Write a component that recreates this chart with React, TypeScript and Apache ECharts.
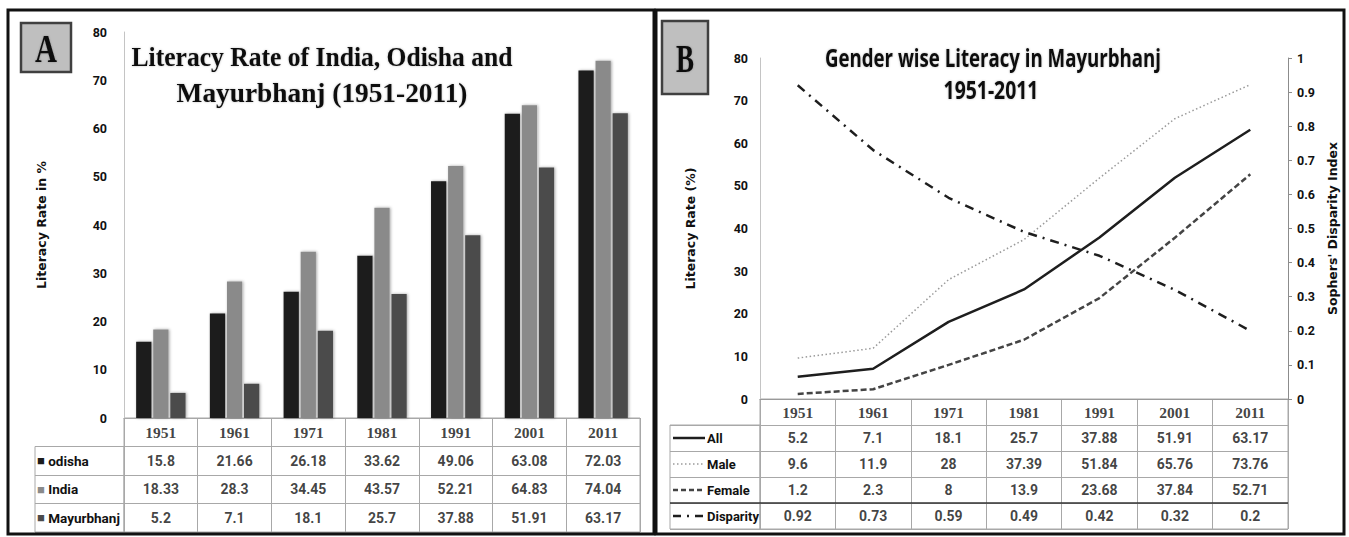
import React, { useEffect, useRef } from "react";
import * as echarts from "echarts";

// ---------- data ----------
const years = ["1951", "1961", "1971", "1981", "1991", "2001", "2011"];
const odisha = [15.8, 21.66, 26.18, 33.62, 49.06, 63.08, 72.03];
const india = [18.33, 28.3, 34.45, 43.57, 52.21, 64.83, 74.04];
const mayurbhanj = [5.2, 7.1, 18.1, 25.7, 37.88, 51.91, 63.17];
const namesA = ["odisha", "India", "Mayurbhanj"];
const colorsA = ["#1c1c1c", "#8a8a8a", "#4b4b4b"];

const allRate = [5.2, 7.1, 18.1, 25.7, 37.88, 51.91, 63.17];
const maleRate = [9.6, 11.9, 28, 37.39, 51.84, 65.76, 73.76];
const femaleRate = [1.2, 2.3, 8, 13.9, 23.68, 37.84, 52.71];
const disparity = [0.92, 0.73, 0.59, 0.49, 0.42, 0.32, 0.2];
const namesB = ["All", "Male", "Female", "Disparity"];

const titleA = ["Literacy Rate of India, Odisha and", "Mayurbhanj (1951-2011)"];
const titleB = ["Gender wise Literacy in Mayurbhanj", "1951-2011"];

// ---------- layout ----------
const LA = { plotL: 124, plotR: 640, plotT: 32, plotB: 418, tableB: 532, legL: 35 };
const LB = { plotL: 760, plotR: 1288, plotT: 58, plotB: 399, tableB: 529, legL: 670 };
const rowHA = (LA.tableB - LA.plotB) / 4;
const rowHB = (LB.tableB - LB.plotB) / 5;

const FONT_NUM = "'Roboto', sans-serif";
const FONT_SERIF = "'Liberation Serif', serif";
const FONT_NAME = "'DejaVu Sans', sans-serif";
const GRID_LINE = "#a8a8a8";

function fitScale(text: string, font: string, target: number) {
  const c = document.createElement("canvas").getContext("2d");
  if (!c) return 1;
  c.font = font;
  const w = c.measureText(text).width;
  return w > 0 ? target / w : 1;
}

function titleText(text: string, x: number, y: number, font: string, target: number) {
  return {
    type: "text",
    x,
    y,
    scaleX: fitScale(text, font, target),
    z: 100,
    style: {
      text,
      font,
      fill: "#111",
      align: "center",
      textAlign: "center",
      verticalAlign: "middle",
      textVerticalAlign: "middle",
      textShadowColor: "rgba(0,0,0,0.25)",
      textShadowBlur: 2,
    },
  };
}

function cellSeries(
  xIdx: number,
  yIdx: number,
  rows: (number | string)[][],
  rowOffset: number,
  font: { family: string; size: number }
) {
  const data: (number | string)[][] = [];
  rows.forEach((row, r) =>
    row.forEach((v, c) => data.push([c, r + rowOffset, String(v)]))
  );
  return {
    type: "scatter",
    xAxisIndex: xIdx,
    yAxisIndex: yIdx,
    data,
    symbolSize: 1,
    itemStyle: { color: "rgba(0,0,0,0)" },
    silent: true,
    label: {
      show: true,
      position: "inside",
      formatter: (p: any) => p.value[2],
      fontFamily: font.family,
      fontSize: font.size,
      fontWeight: "bold",
      color: "#111",
    },
  };
}

const hiddenCat = (gridIndex: number, data: string[], extra: any = {}) => ({
  type: "category",
  gridIndex,
  data,
  axisLine: { show: false },
  axisTick: { show: false },
  axisLabel: { show: false },
  splitLine: { show: true, interval: 0, lineStyle: { color: GRID_LINE, width: 1 } },
  ...extra,
});

function buildOption() {
  const axisLabelStyle = { fontFamily: FONT_NUM, fontWeight: "bold", fontSize: 12.5, color: "#111" };
  const nameStyle = { fontFamily: FONT_NAME, fontWeight: "bold", fontSize: 12.5, color: "#111" };

  const richA: any = { t: { fontFamily: FONT_NUM, fontWeight: "bold", fontSize: 13.5, color: "#111" } };
  colorsA.forEach((c, i) => (richA["s" + i] = { color: c, fontSize: 13 }));

  const titleFontA = `bold 27px ${FONT_SERIF}`;
  const titleFontB = `bold 25px 'Open Sans', sans-serif`;
  const letterFont = `bold 40px ${FONT_SERIF}`;

  const legendStyles = [
    { stroke: "#1e1e1e", lineWidth: 2.5 },
    { stroke: "#9a9a9a", lineWidth: 1.5, lineDash: [1.5, 2.5] },
    { stroke: "#444", lineWidth: 2.5, lineDash: [5, 3] },
    { stroke: "#1e1e1e", lineWidth: 2.5, lineDash: [8, 6, 2, 6] },
  ];

  const graphic: any[] = [
    { type: "rect", shape: { x: 8, y: 10, width: 646, height: 524 }, style: { fill: "none", stroke: "#111", lineWidth: 3 }, z: 100 },
    { type: "rect", shape: { x: 656, y: 10, width: 688, height: 524 }, style: { fill: "none", stroke: "#111", lineWidth: 3 }, z: 100 },
    { type: "rect", shape: { x: 21, y: 23, width: 50, height: 49 }, style: { fill: "#bfbfbf", stroke: "#404040", lineWidth: 2.5 }, z: 100 },
    { type: "rect", shape: { x: 662, y: 21, width: 46, height: 73 }, style: { fill: "#bfbfbf", stroke: "#404040", lineWidth: 2.5 }, z: 100 },
    titleText("A", 46, 49, letterFont, 22),
    titleText("B", 685, 59, letterFont, 18),
    titleText(titleA[0], 322, 57, titleFontA, 381),
    titleText(titleA[1], 322, 93, titleFontA, 291),
    titleText(titleB[0], 993, 57, titleFontB, 336),
    titleText(titleB[1], 991, 90, titleFontB, 95),
    {
      type: "line",
      shape: { x1: LB.legL, y1: LB.plotB + rowHB * 4, x2: LB.plotR, y2: LB.plotB + rowHB * 4 },
      style: { stroke: "#333", lineWidth: 1.5 },
      z: 90,
    },
  ];
  legendStyles.forEach((st, i) => {
    const y = LB.plotB + rowHB * (i + 1.5);
    graphic.push({
      type: "line",
      shape: { x1: LB.legL + 3, y1: y, x2: LB.legL + 35, y2: y },
      style: st,
      z: 90,
    });
  });

  return {
    animation: false,
    backgroundColor: "#fff",
    grid: [
      { left: LA.plotL, top: LA.plotT, width: LA.plotR - LA.plotL, height: LA.plotB - LA.plotT },
      { left: LA.plotL, top: LA.plotB, width: LA.plotR - LA.plotL, height: LA.tableB - LA.plotB, show: true, borderColor: GRID_LINE, borderWidth: 1 },
      { left: LA.legL, top: LA.plotB + rowHA, width: LA.plotL - LA.legL, height: LA.tableB - LA.plotB - rowHA, show: true, borderColor: GRID_LINE, borderWidth: 1 },
      { left: LB.plotL, top: LB.plotT, width: LB.plotR - LB.plotL, height: LB.plotB - LB.plotT },
      { left: LB.plotL, top: LB.plotB, width: LB.plotR - LB.plotL, height: LB.tableB - LB.plotB, show: true, borderColor: GRID_LINE, borderWidth: 1 },
      { left: LB.legL, top: LB.plotB + rowHB, width: LB.plotL - LB.legL, height: LB.tableB - LB.plotB - rowHB, show: true, borderColor: GRID_LINE, borderWidth: 1 },
    ],
    xAxis: [
      { type: "category", gridIndex: 0, data: years, axisLine: { lineStyle: { color: GRID_LINE } }, axisTick: { show: false }, axisLabel: { show: false } },
      hiddenCat(1, years),
      { type: "value", gridIndex: 2, show: false },
      { type: "category", gridIndex: 3, data: years, axisLine: { lineStyle: { color: "#999" } }, axisTick: { show: false }, axisLabel: { show: false } },
      hiddenCat(4, years),
      { type: "value", gridIndex: 5, show: false },
    ],
    yAxis: [
      {
        type: "value", gridIndex: 0, min: 0, max: 80, interval: 10,
        axisLine: { show: true, lineStyle: { color: "#c4c4c4" } }, axisTick: { show: false }, splitLine: { show: false },
        axisLabel: { ...axisLabelStyle, margin: 17 },
        name: "Literacy Rate in %", nameLocation: "middle", nameGap: 76, nameTextStyle: nameStyle,
      },
      hiddenCat(1, ["h", "r1", "r2", "r3"], { inverse: true }),
      {
        ...hiddenCat(2, namesA, { inverse: true }),
        axisLabel: {
          show: true, inside: true, margin: 2, interval: 0,
          formatter: (v: string, i: number) => `{s${i}|■}{t| ${v}}`,
          rich: richA,
        },
      },
      {
        type: "value", gridIndex: 3, min: 0, max: 80, interval: 10,
        axisLine: { show: true, lineStyle: { color: "#c4c4c4" } }, axisTick: { show: false }, splitLine: { show: false },
        axisLabel: { ...axisLabelStyle, margin: 12 },
        name: "Literacy Rate (%)", nameLocation: "middle", nameGap: 63, nameTextStyle: nameStyle,
      },
      {
        type: "value", gridIndex: 3, position: "right", min: 0, max: 1, interval: 0.1,
        axisLine: { show: true, lineStyle: { color: "#8c8c8c" } },
        axisTick: { show: true, length: 4, lineStyle: { color: "#8c8c8c" } },
        splitLine: { show: false },
        axisLabel: { ...axisLabelStyle, margin: 9 },
        name: "Sophers' Disparity Index", nameLocation: "middle", nameGap: 38, nameRotate: 90, nameTextStyle: nameStyle,
      },
      hiddenCat(4, ["h", "r1", "r2", "r3", "r4"], { inverse: true }),
      {
        ...hiddenCat(5, namesB, { inverse: true }),
        axisLabel: {
          show: true, inside: true, margin: 37, interval: 0,
          fontFamily: FONT_NUM, fontWeight: "bold", fontSize: 13, color: "#111",
        },
      },
    ],
    series: [
      ...[odisha, india, mayurbhanj].map((d, i) => ({
        type: "bar",
        name: namesA[i],
        xAxisIndex: 0,
        yAxisIndex: 0,
        data: d,
        barGap: "12%",
        barCategoryGap: "33%",
        itemStyle: { color: colorsA[i], shadowBlur: 3, shadowColor: "rgba(0,0,0,0.35)", shadowOffsetX: 1 },
      })),
      cellSeries(1, 1, [years], 0, { family: FONT_SERIF, size: 15.5 }),
      cellSeries(1, 1, [odisha, india, mayurbhanj], 1, { family: FONT_NUM, size: 14 }),
      {
        type: "line", name: "All", xAxisIndex: 3, yAxisIndex: 3, data: allRate, symbol: "none",
        lineStyle: { color: "#1e1e1e", width: 2.5 },
      },
      {
        type: "line", name: "Male", xAxisIndex: 3, yAxisIndex: 3, data: maleRate, symbol: "none",
        lineStyle: { color: "#9a9a9a", width: 1.5, type: [1.5, 2.5] },
      },
      {
        type: "line", name: "Female", xAxisIndex: 3, yAxisIndex: 3, data: femaleRate, symbol: "none",
        lineStyle: { color: "#444", width: 2.5, type: [6, 3] },
      },
      {
        type: "line", name: "Disparity", xAxisIndex: 3, yAxisIndex: 4, data: disparity, symbol: "none",
        lineStyle: { color: "#1e1e1e", width: 2.5, type: [9, 6, 2, 6] },
      },
      cellSeries(4, 5, [years], 0, { family: FONT_SERIF, size: 15.5 }),
      cellSeries(4, 5, [allRate, maleRate, femaleRate, disparity], 1, { family: FONT_NUM, size: 14 }),
    ],
    graphic,
  };
}

export default function App() {
  const ref = useRef<HTMLDivElement>(null);
  useEffect(() => {
    if (!ref.current) return;
    const chart = echarts.init(ref.current, null, { renderer: "svg" });
    chart.setOption(buildOption() as any);
    return () => chart.dispose();
  }, []);
  return (
    <div
      ref={ref}
      style={{ position: "absolute", left: 0, top: 0, width: 1349, height: 537, background: "#fff" }}
    />
  );
}
